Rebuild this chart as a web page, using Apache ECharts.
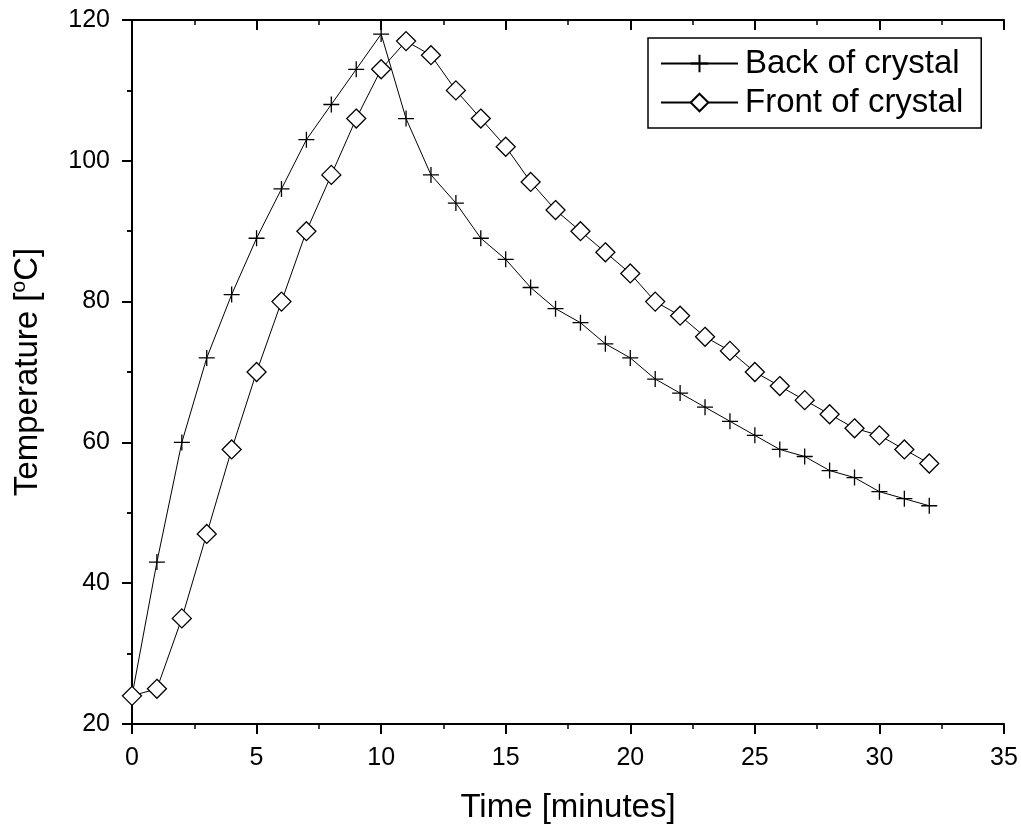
<!DOCTYPE html>
<html>
<head>
<meta charset="utf-8">
<script src="https://cdn.jsdelivr.net/npm/echarts@6/dist/echarts.min.js"></script>
<style>html,body{margin:0;padding:0;background:#fff;}#c{width:1021px;height:833px;}</style>
</head>
<body>
<div id="c"></div>
<script>
const times = [0,1,2,3,4,5,6,7,8,9,10,11,12,13,14,15,16,17,18,19,20,21,22,23,24,25,26,27,28,29,30,31,32];
const backVals = [24,43,60,72,81,89,96,103,108,113,118,106,98,94,89,86,82,79,77,74,72,69,67,65,63,61,59,58,56,55,53,52,51];
const frontVals = [24,25,35,47,59,70,80,90,98,106,113,117,115,110,106,102,97,93,90,87,84,80,78,75,73,70,68,66,64,62,61,59,57];
const seriesNames = ['Back of crystal','Front of crystal'];
const xTicks = {min:0,max:35,interval:5};
const yTicks = {min:20,max:120,interval:20};

const FONT = "'Liberation Sans', Arial, sans-serif";
const chart = echarts.init(document.getElementById('c'), null, {renderer:'canvas'});
const plus = 'path://M0,7L14,7M7,0L7,14';

const baseAxisLine = {show:true, lineStyle:{color:'#000', width:2}};
chart.setOption({
  animation:false,
  backgroundColor:'#fff',
  grid:{left:132, right:17, top:20, bottom:109, containLabel:false},
  legend:{
    left:648, top:38,
    orient:'vertical',
    data:seriesNames,
    itemWidth:77, itemHeight:22, itemGap:2,
    padding:[7,18,7,12],
    borderColor:'#000', borderWidth:1.5,
    backgroundColor:'#fff',
    textStyle:{fontFamily:FONT, fontSize:33, color:'#000', lineHeight:37, padding:[0,0,0,2]}
  },
  xAxis:[{
    type:'value', min:xTicks.min, max:xTicks.max, interval:xTicks.interval,
    name:'Time [minutes]', nameLocation:'middle', nameGap:67,
    nameTextStyle:{fontFamily:FONT, fontSize:33, color:'#000'},
    axisLine:baseAxisLine,
    axisTick:{show:true, inside:false, length:10, lineStyle:{color:'#000', width:2}},
    minorTick:{show:true, splitNumber:2, length:5, lineStyle:{color:'#000', width:1.5}},
    axisLabel:{fontFamily:FONT, fontSize:25, color:'#000', margin:22},
    splitLine:{show:false}
  },{
    type:'value', position:'top', min:xTicks.min, max:xTicks.max, interval:xTicks.interval,
    axisLine:baseAxisLine,
    axisTick:{show:true, inside:true, length:10, lineStyle:{color:'#000', width:2}},
    minorTick:{show:true, splitNumber:2, length:5, lineStyle:{color:'#000', width:1.5}},
    axisLabel:{show:false}, splitLine:{show:false}
  }],
  yAxis:[{
    type:'value', min:yTicks.min, max:yTicks.max, interval:yTicks.interval,
    name:'{a|Temperature [}{s|o}{a|C]}', nameLocation:'middle', nameGap:85, nameRotate:90,
    nameTextStyle:{fontFamily:FONT, fontSize:33, color:'#000',
      rich:{a:{fontFamily:FONT, fontSize:33, color:'#000', lineHeight:38}, s:{fontFamily:FONT, fontSize:21, color:'#000', verticalAlign:'top', lineHeight:38, padding:[0,0,18,0]}}},
    axisLine:baseAxisLine,
    axisTick:{show:true, inside:false, length:10, lineStyle:{color:'#000', width:2}},
    minorTick:{show:true, splitNumber:2, length:5, lineStyle:{color:'#000', width:1.5}},
    axisLabel:{fontFamily:FONT, fontSize:25, color:'#000', margin:22},
    splitLine:{show:false}
  },{
    type:'value', position:'right', min:yTicks.min, max:yTicks.max, interval:yTicks.interval,
    axisLine:baseAxisLine,
    axisTick:{show:true, inside:true, length:10, lineStyle:{color:'#000', width:2}},
    minorTick:{show:true, splitNumber:2, length:5, lineStyle:{color:'#000', width:1.5}},
    axisLabel:{show:false}, splitLine:{show:false}
  }],
  series:[{
    name:seriesNames[0], type:'line',
    data:times.map((t,i)=>[t, backVals[i]]),
    symbol:plus, symbolSize:16, showAllSymbol:true,
    lineStyle:{color:'#000', width:1},
    itemStyle:{color:'none', borderColor:'#000', borderWidth:1.3},
    z:3
  },{
    name:seriesNames[1], type:'line',
    data:times.map((t,i)=>[t, frontVals[i]]),
    symbol:'diamond', symbolSize:19, showAllSymbol:true,
    lineStyle:{color:'#000', width:1},
    itemStyle:{color:'#fff', borderColor:'#000', borderWidth:1.3},
    z:4
  }]
});
</script>
</body>
</html>
